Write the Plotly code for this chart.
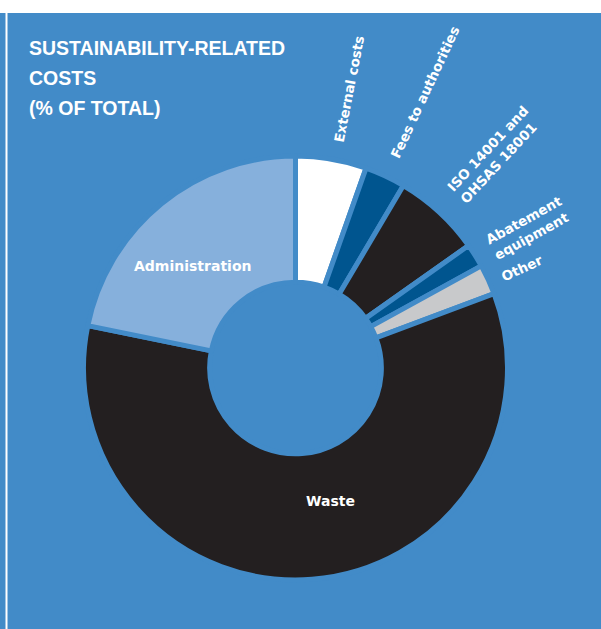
import plotly.graph_objects as go

# ---- data ----
labels = ["External costs", "Fees to authorities", "ISO 14001 and OHSAS 18001",
          "Abatement equipment", "Other", "Waste", "Administration"]
values = [5.4, 3.1, 6.7, 1.8, 2.3, 58.9, 21.8]
colors = ["#ffffff", "#00558f", "#231f20", "#00558f", "#c8c9cb", "#231f20", "#86b0dc"]

BG = "#428bc8"
W, H = 601, 629

def px(x):
    return x / W

def py(y):
    return 1 - y / H

fig = go.Figure()
fig.add_trace(go.Pie(
    labels=labels, values=values, sort=False, direction="clockwise", rotation=0,
    hole=0.405,
    marker=dict(colors=colors, line=dict(color=BG, width=5)),
    textinfo="none", hoverinfo="label+percent", showlegend=False,
    domain=dict(x=[px(83.5), px(507.5)], y=[py(580), py(156)]),
))

ann = []
title_font = dict(family="Liberation Sans, Arial", size=19.5, color="white")
for i, t in enumerate(["SUSTAINABILITY-RELATED", "COSTS", "(% OF TOTAL)"]):
    ann.append(dict(text="<b>" + t + "</b>", x=px(27), y=py(48 + 30 * i), xref="paper", yref="paper",
                    xanchor="left", yanchor="middle", showarrow=False, font=title_font))

lab_font = dict(family="DejaVu Sans", size=13.5, color="white", weight="bold")
bold_font = dict(family="DejaVu Sans", size=14, color="white", weight="bold")
rot = [
    ("External costs", 349, 89, -79),
    ("Fees to authorities", 425, 92, -65),
    ("ISO 14001 and<br>OHSAS 18001", 494, 155, -47),
    ("Abatement<br>equipment", 528, 228, -29),
    ("Other", 522, 268, -25),
]
for t, x, y, a in rot:
    ann.append(dict(text=t, x=px(x), y=py(y), xref="paper", yref="paper", xanchor="center",
                    yanchor="middle", textangle=a, showarrow=False, font=lab_font, align="left"))
ann.append(dict(text="Administration", x=px(192), y=py(266), xref="paper", yref="paper",
                xanchor="center", yanchor="middle", showarrow=False, font=bold_font))
ann.append(dict(text="Waste", x=px(330), y=py(501), xref="paper", yref="paper",
                xanchor="center", yanchor="middle", showarrow=False, font=bold_font))

shapes = [
    dict(type="rect", xref="paper", yref="paper", x0=0, x1=1, y0=py(13), y1=1,
         fillcolor="white", line=dict(width=0), layer="above"),
    dict(type="line", xref="paper", yref="paper", x0=px(6.5), x1=px(6.5), y0=0, y1=py(13),
         line=dict(color="white", width=2)),
]

fig.update_layout(
    width=W, height=H, margin=dict(l=0, r=0, t=0, b=0),
    paper_bgcolor=BG, plot_bgcolor=BG,
    annotations=ann, shapes=shapes,
)
fig.write_html("out.html")
